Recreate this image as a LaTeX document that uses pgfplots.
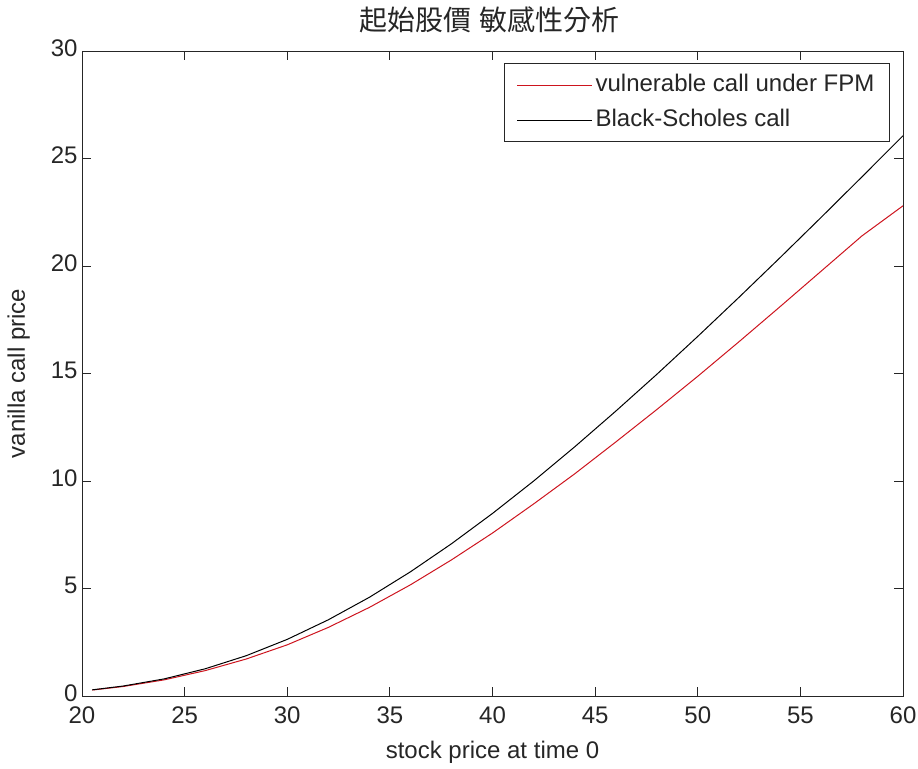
\documentclass[border=0pt]{standalone}
\usepackage{fontspec}
\setmainfont{Liberation Sans}
\newfontfamily\cjk{Noto Sans CJK TC}
\usepackage{pgfplots}
\pgfplotsset{compat=1.18}
\begin{document}
\begin{tikzpicture}
\useasboundingbox (0,0) rectangle (918bp,769bp);
\begin{axis}[
  at={(82bp,73bp)}, anchor=south west,
  scale only axis, width=821bp, height=645bp,
  xmin=20, xmax=60, ymin=0, ymax=30,
  xtick={20,25,...,60}, ytick={0,5,...,30},
  tick pos=both, tick align=inside, major tick length=9bp,
  axis line style={line width=0.9bp, black!85},
  every tick/.style={line width=0.9bp, black!85},
  /pgf/number format/assume math mode=true,
  tick label style={font=\fontsize{24bp}{28bp}\selectfont, text=black!85},
  xticklabel style={yshift=-7bp},
  yticklabel style={xshift=-1bp, yshift=3bp},
  title={\cjk 起始股價\hspace{9bp}敏感性分析},
  title style={at={(axis description cs:0.5,1)}, anchor=base, yshift=15bp, xshift=-3bp, font=\fontsize{28bp}{32bp}\selectfont, text=black!85},
  xlabel={stock price at time 0},
  xlabel style={at={(axis description cs:0.5,0)}, anchor=base, yshift=-62bp, font=\fontsize{24bp}{28bp}\selectfont, text=black!85},
  ylabel={vanilla call price},
  ylabel style={at={(axis description cs:0,0.5)}, anchor=base, yshift=57bp, font=\fontsize{24bp}{28bp}\selectfont, text=black!85},
  legend cell align=left,
  legend image code/.code={\draw[#1] (0bp,0bp) -- (75bp,0bp);},
  legend style={at={(0.984,0.981)}, anchor=north east, draw=black!85, line width=0.9bp,
    font=\fontsize{24bp}{28bp}\selectfont, text=black!85,
    inner xsep=12bp, inner ysep=10bp, row sep=12bp,
    nodes={inner xsep=3bp, inner ysep=0pt, text height=18bp, text depth=5bp}},
]
\addplot[color={rgb,255:red,205;green,20;blue,30}, line width=1bp] coordinates {
(20.5,0.276) (22,0.44) (24,0.75) (26,1.18) (28,1.72) (30,2.38) (32,3.19) (34,4.12)
(36,5.17) (38,6.33) (40,7.58) (42,8.93) (44,10.33) (46,11.81) (48,13.32) (50,14.87)
(52,16.47) (54,18.10) (56,19.75) (58,21.40) (60,22.80)
};
\addlegendentry{vulnerable call under FPM}
\addplot[color=black, line width=1bp] coordinates {
(20.5,0.287) (22,0.463) (24,0.795) (26,1.265) (28,1.874) (30,2.634) (32,3.544) (34,4.590)
(36,5.775) (38,7.080) (40,8.491) (42,9.995) (44,11.585) (46,13.244) (48,14.956) (50,16.725)
(52,18.535) (54,20.379) (56,22.251) (58,24.146) (60,26.06)
};
\addlegendentry{Black-Scholes call}
\end{axis}
\end{tikzpicture}
\end{document}
